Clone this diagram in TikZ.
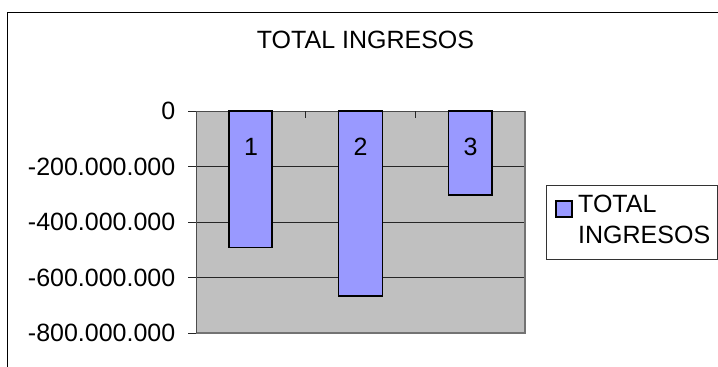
\documentclass[tikz,border=0pt]{standalone}
\usepackage{fontspec}
\setmainfont{Liberation Sans}
\usepackage{tikz}
\usetikzlibrary{positioning}

\definecolor{barblue}{HTML}{9999FF}
\definecolor{plotgray}{HTML}{C0C0C0}

\begin{document}
\begin{tikzpicture}[x=1pt,y=-1pt,
        txt/.style={font=\fontsize{25}{31}\selectfont,inner sep=0pt,text=black},
        ylbl/.style={txt,anchor=east},
        bar/.style={draw=black,line width=1.4pt,fill=barblue},
        gridline/.style={draw=black!85,line width=0.8pt},
        tick/.style={draw=black!85,line width=0.8pt}]

        \useasboundingbox (0,0) rectangle (718,367);

        % chart frame
        \draw[line width=1.6pt] (7.5,367) -- (7.5,12.5) -- (718,12.5);

        \node[txt] (title) at (365.5,40) {TOTAL INGRESOS};

        % plot area
        \fill[plotgray] (196,111) rectangle (525,333);
        \draw[gridline] (196,166.5) -- (525,166.5);
        \draw[gridline] (196,222) -- (525,222);
        \draw[gridline] (196,277.5) -- (525,277.5);
        \draw[black!55,line width=1.2pt] (525,111) -- (525,333) -- (196,333);
        \draw[black!70,line width=0.8pt] (196,333) -- (196,111) -- (525,111);

        % ticks
        \draw[tick] (188,111) -- (196,111);
        \draw[tick] (188,166.5) -- (196,166.5);
        \draw[tick] (188,222) -- (196,222);
        \draw[tick] (188,277.5) -- (196,277.5);
        \draw[tick] (188,333) -- (196,333);
        \draw[tick] (305.7,111) -- (305.7,118);
        \draw[tick] (415.3,111) -- (415.3,118);

        \node[ylbl] (y0)   at (175.5,111)   {0};
        \node[ylbl] (y200) at (175.5,166.5) {-200.000.000};
        \node[ylbl] (y400) at (175.5,222)   {-400.000.000};
        \node[ylbl] (y600) at (175.5,277.5) {-600.000.000};
        \node[ylbl] (y800) at (175.5,333)   {-800.000.000};

        % bars
        \draw[bar] (229,111) rectangle (272,247.5);
        \draw[bar] (338.5,111) rectangle (382.5,296);
        \draw[bar] (448.5,111) rectangle (492,195);

        \node[txt] (b1) at (251,147) {1};
        \node[txt] (b2) at (360.5,147) {2};
        \node[txt] (b3) at (470.5,147) {3};

        % legend
        \draw[black!80,line width=1pt,fill=white] (546,185) rectangle (717,259);
        \draw[bar,line width=1.2pt] (556,201) rectangle (572,217);
        \node[txt,align=left,anchor=north west] (leg) at (578,195) {TOTAL\\INGRESOS};
\end{tikzpicture}
\end{document}
